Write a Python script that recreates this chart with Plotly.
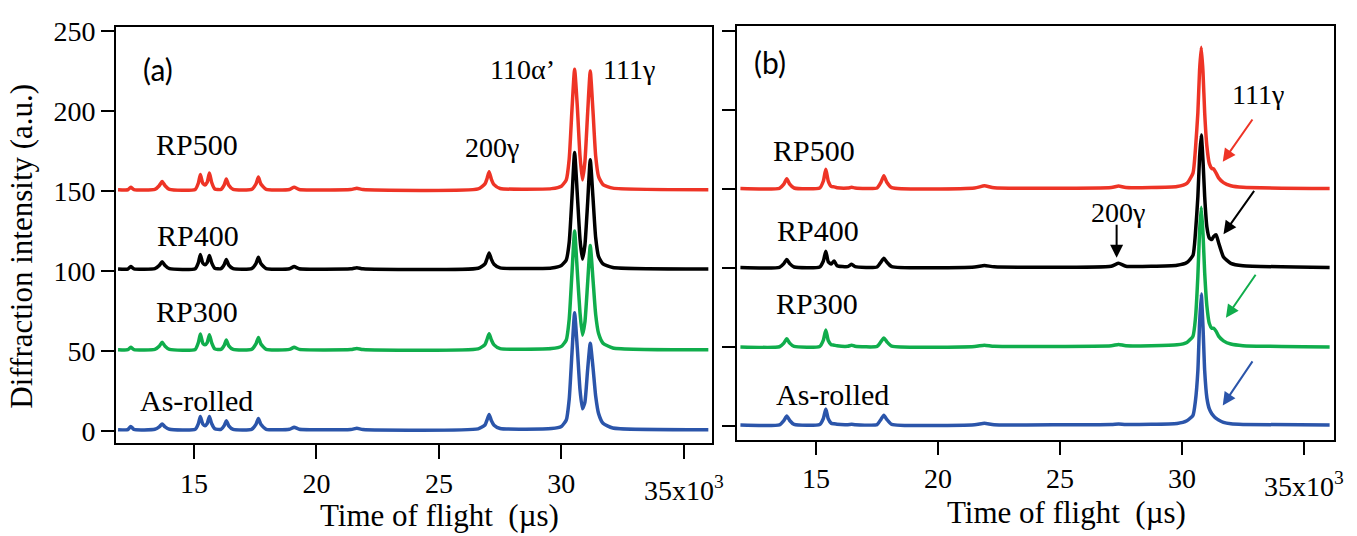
import plotly.graph_objects as go

# ---------------- data (time of flight in 10^3 µs, intensity in a.u.) ----------------
LEFT_X = [11.9, 12.3, 12.42, 12.55, 13.4, 13.58, 13.7, 13.82, 14.0, 15.05, 15.18, 15.26, 15.36, 15.45,
          15.54, 15.63, 15.72, 15.85, 16.1, 16.24, 16.32, 16.42, 16.6, 17.35, 17.53, 17.63, 17.73, 17.95,
          18.9, 19.09, 19.3, 21.4, 21.65, 21.9, 26.6, 26.88, 26.97, 27.05, 27.14, 27.25, 27.5, 29.6,
          30.0, 30.2, 30.32, 30.43, 30.54, 30.65, 30.76, 30.86, 30.96, 31.07, 31.18, 31.29, 31.4,
          31.52, 31.7, 32.1, 36.0]
LEFT_RP500 = [150.8, 150.8, 152.3, 150.9, 151.0, 153.3, 156.0, 153.3, 151.0, 151.0, 155.0, 160.3, 154.8,
              153.8, 155.5, 161.2, 155.5, 151.3, 151.0, 154.0, 157.5, 153.6, 151.0, 151.0, 154.4, 158.7,
              154.4, 151.0, 151.0, 152.4, 151.0, 150.9, 151.7, 150.9, 151.3, 154.5, 158.0, 162.0, 157.5,
              154.0, 151.6, 151.5, 153.0, 157.0, 170.0, 200.0, 226.0, 203.0, 172.0, 157.0, 168.0, 198.0,
              225.0, 200.0, 172.0, 159.0, 154.0, 151.8, 150.8]
LEFT_RP400 = [101.3, 101.3, 102.8, 101.4, 101.5, 103.5, 105.9, 103.5, 101.5, 101.5, 105.3, 110.3, 105.0,
              104.0, 105.3, 109.8, 105.3, 101.8, 101.5, 104.2, 107.3, 103.7, 101.5, 101.5, 104.7, 108.6,
              104.7, 101.5, 101.5, 102.8, 101.5, 101.4, 102.1, 101.4, 101.8, 104.5, 108.0, 111.3, 107.5,
              104.3, 102.0, 102.0, 103.5, 107.0, 118.0, 145.0, 174.0, 148.0, 120.0, 107.5, 116.0, 142.0,
              169.5, 146.0, 121.0, 109.0, 104.5, 102.2, 101.3]
LEFT_RP300 = [50.9, 50.9, 52.4, 51.0, 51.1, 53.1, 55.5, 53.1, 51.1, 51.1, 55.4, 60.7, 55.0, 54.0, 55.4,
              60.3, 55.4, 51.4, 51.1, 53.8, 56.9, 53.3, 51.1, 51.1, 54.5, 58.6, 54.5, 51.1, 51.1, 52.4,
              51.1, 51.0, 51.7, 51.0, 51.4, 54.1, 57.6, 60.9, 57.1, 53.9, 51.6, 51.6, 53.0, 57.0, 70.0,
              98.0, 125.0, 100.0, 74.0, 60.0, 68.0, 92.0, 116.0, 95.0, 73.0, 61.0, 55.0, 52.0, 50.9]
LEFT_ASR = [1.0, 1.0, 3.0, 1.1, 1.2, 2.7, 4.5, 2.7, 1.2, 1.2, 4.8, 9.2, 4.5, 3.5, 4.8, 9.2, 4.8, 1.5,
            1.2, 3.7, 6.6, 3.4, 1.2, 1.2, 4.3, 8.0, 4.3, 1.2, 1.2, 2.5, 1.2, 1.1, 1.8, 1.1, 1.5, 3.9,
            7.2, 10.5, 6.7, 3.8, 1.7, 1.7, 3.0, 7.0, 20.0, 48.0, 74.0, 52.0, 26.0, 14.0, 18.0, 38.0,
            55.0, 40.0, 22.0, 11.0, 5.0, 2.0, 1.0]

RIGHT_X = [11.9, 13.5, 13.68, 13.8, 13.92, 14.1, 15.15, 15.3, 15.4, 15.5, 15.62, 15.74, 15.86, 16.3,
           16.46, 16.6, 17.5, 17.66, 17.78, 17.9, 18.1, 21.5, 21.9, 22.3, 27.1, 27.4, 27.7, 29.8, 30.2,
           30.45, 30.55, 30.65, 30.72, 30.79, 30.86, 30.93, 31.02, 31.12, 31.22, 31.3, 31.4, 31.5,
           31.7, 32.0, 32.5, 36.05]
RIGHT_RP500 = [150.3, 150.4, 153.0, 156.5, 153.0, 150.6, 150.6, 155.0, 162.4, 155.0, 151.6, 151.3, 150.8,
               150.6, 151.0, 150.6, 150.6, 154.2, 158.3, 154.2, 150.8, 150.6, 152.0, 150.7, 150.9, 151.8,
               150.9, 151.5, 153.5, 160.0, 175.0, 198.0, 225.0, 239.5, 224.0, 198.0, 177.0, 166.0,
               163.0, 162.5, 160.0, 157.0, 154.0, 152.0, 151.0, 150.3]
RIGHT_RP400 = [100.4, 100.5, 102.8, 105.5, 102.8, 100.7, 100.7, 104.5, 110.7, 104.0, 102.5, 104.5, 101.5,
               100.9, 102.4, 100.9, 100.7, 103.8, 106.2, 103.8, 100.9, 100.7, 101.6, 100.8, 101.2, 103.0,
               101.2, 101.8, 103.5, 108.0, 122.0, 145.0, 170.0, 184.0, 168.0, 145.0, 126.0, 119.0,
               118.0, 120.0, 121.0, 116.0, 107.0, 103.0, 101.5, 100.4]
RIGHT_RP300 = [50.2, 50.3, 52.6, 55.3, 52.6, 50.5, 50.5, 54.5, 60.9, 54.2, 51.6, 51.3, 50.9, 50.6, 51.3,
               50.6, 50.5, 53.5, 55.8, 53.5, 50.7, 50.5, 51.3, 50.6, 50.9, 51.8, 50.9, 51.5, 53.0, 57.0,
               68.0, 95.0, 123.0, 138.5, 122.0, 97.0, 76.0, 65.0, 62.0, 62.0, 60.0, 57.0, 54.0, 52.0,
               51.0, 50.2]
RIGHT_ASR = [0.9, 1.0, 3.7, 6.5, 3.7, 1.2, 1.2, 5.0, 10.9, 4.8, 2.0, 1.6, 1.3, 1.1, 1.3, 1.1, 1.1, 4.4,
             7.1, 4.4, 1.3, 1.1, 1.9, 1.1, 1.2, 1.5, 1.2, 1.8, 3.5, 7.0, 16.0, 35.0, 65.0, 83.6, 63.0,
             35.0, 18.0, 11.0, 8.0, 6.5, 5.0, 4.0, 2.5, 1.6, 1.2, 0.9]

SERIES_NAMES = ["RP500", "RP400", "RP300", "As-rolled"]
SERIES_COLORS = ["#EE3426", "#000000", "#10AD4C", "#2B55AA"]
X_TICKS = [15, 20, 25, 30, 35]
X_TICK_TEXT = ["15", "20", "25", "30", " "]
Y_TICKS = [0, 50, 100, 150, 200, 250]

W, H = 1357, 536
SERIF = "Times New Roman"
SANS = "Lato"

fig = go.Figure()
left_series = [LEFT_RP500, LEFT_RP400, LEFT_RP300, LEFT_ASR]
right_series = [RIGHT_RP500, RIGHT_RP400, RIGHT_RP300, RIGHT_ASR]
for name, color, ys in zip(SERIES_NAMES, SERIES_COLORS, left_series):
    fig.add_trace(go.Scatter(x=LEFT_X, y=ys, mode="lines", name=name,
                             line=dict(color=color, width=3.5, shape="spline", smoothing=0.5),
                             xaxis="x", yaxis="y", showlegend=False))
for name, color, ys in zip(SERIES_NAMES, SERIES_COLORS, right_series):
    fig.add_trace(go.Scatter(x=RIGHT_X, y=ys, mode="lines", name=name,
                             line=dict(color=color, width=3.5, shape="spline", smoothing=0.5),
                             xaxis="x2", yaxis="y2", showlegend=False))

axis_common = dict(showgrid=False, zeroline=False, showline=True, linecolor="black", linewidth=2,
                   mirror=True, ticks="outside", tickcolor="black", tickwidth=2,
                   tickfont=dict(family=SERIF, size=28, color="black"))

fig.update_layout(
    width=W, height=H, margin=dict(l=0, r=0, t=0, b=0),
    paper_bgcolor="white", plot_bgcolor="white",
    font=dict(family=SERIF, color="black"),
    xaxis=dict(domain=[116 / W, 712 / W], range=[11.816, 36.15], tickvals=X_TICKS, ticktext=X_TICK_TEXT,
               ticklen=14, anchor="y", **axis_common),
    yaxis=dict(domain=[1 - 444 / H, 1 - 16 / H], range=[-7.6, 252.7], tickvals=Y_TICKS, ticklen=13,
               anchor="x", **axis_common),
    xaxis2=dict(domain=[737 / W, 1334 / W], range=[11.76, 36.23], tickvals=X_TICKS, ticktext=X_TICK_TEXT,
                ticklen=13, anchor="y2", **axis_common),
    yaxis2=dict(domain=[1 - 440 / H, 1 - 15.3 / H], range=[-8.3, 253.0], tickvals=Y_TICKS, ticklen=13,
                showticklabels=False, anchor="x2", **axis_common),
)

ann = []
def txt(x, y, s, size, xref="x", yref="y", family=SERIF, **kw):
    ann.append(dict(x=x, y=y, xref=xref, yref=yref, text=s, showarrow=False,
                    xanchor="center", yanchor="middle",
                    font=dict(family=family, size=size, color="black"), **kw))

# left panel labels
txt(13.55, 226, "(a)", 30, family=SANS)
txt(15.11, 179.1, "RP500", 30)
txt(15.16, 122, "RP400", 30)
txt(15.12, 74.5, "RP300", 30)
txt(15.12, 18.9, "As-rolled", 30)
txt(28.40, 226, "110α’", 28)
txt(32.75, 226, "111γ", 28)
txt(27.17, 177.3, "200γ", 28)
# right panel labels
txt(13.11, 230.5, "(b)", 30, xref="x2", yref="y2", family=SANS)
txt(14.92, 174.1, "RP500", 30, xref="x2", yref="y2")
txt(15.09, 124, "RP400", 30, xref="x2", yref="y2")
txt(15.03, 77.8, "RP300", 30, xref="x2", yref="y2")
txt(15.67, 20.4, "As-rolled", 30, xref="x2", yref="y2")
txt(33.11, 209.5, "111γ", 28, xref="x2", yref="y2")
txt(27.37, 135.3, "200γ", 28, xref="x2", yref="y2")

# 35x10^3 tick labels
txt(35.0, 1 - 490 / H, "35x10<sup>3</sup>", 28, xref="x", yref="paper")
txt(35.0, 1 - 486 / H, "35x10<sup>3</sup>", 28, xref="x2", yref="paper")

# axis titles
txt(440 / W, 1 - 518 / H, "Time of flight\u00a0\u00a0(µs)", 31, xref="paper", yref="paper")
txt(1066 / W, 1 - 515 / H, "Time of flight\u00a0\u00a0(µs)", 31, xref="paper", yref="paper")
txt(22 / W, 1 - 242 / H, "Diffraction intensity (a.u.)", 31, xref="paper", yref="paper", textangle=-90)

# arrows in right panel
ARROWS = [  # (tail x, tail y, head x, head y, color)
    (32.93, 194.8, 31.67, 167.1, SERIES_COLORS[0]),
    (33.00, 149.7, 31.70, 121.4, SERIES_COLORS[1]),
    (33.06, 96.7, 31.80, 68.6, SERIES_COLORS[2]),
    (32.93, 42.0, 31.67, 13.2, SERIES_COLORS[3]),
    (27.32, 128.3, 27.32, 106.5, "#000000"),
]
for tx, ty, hx, hy, c in ARROWS:
    ann.append(dict(x=hx, y=hy, ax=tx, ay=ty, xref="x2", yref="y2", axref="x2", ayref="y2",
                    showarrow=True, arrowhead=2, arrowsize=1.3, arrowwidth=2, arrowcolor=c, text=""))

fig.update_layout(annotations=ann)
fig.write_html("out.html")
